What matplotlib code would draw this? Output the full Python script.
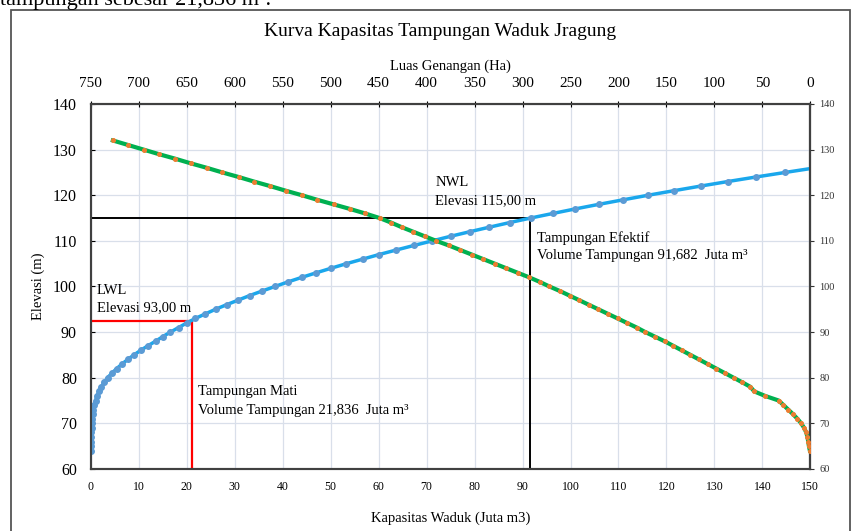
import matplotlib.pyplot as plt
from matplotlib.patches import Rectangle

plt.rcParams['font.family'] = ['Liberation Serif', 'DejaVu Serif']

# Kurva kapasitas (elevasi vs volume)
elevasi_vol = list(range(64, 127))
volume = [0.0, 0.02, 0.05, 0.08, 0.12, 0.17, 0.23, 0.30, 0.40, 0.55,
          0.75, 1.0, 1.3, 1.7, 2.2, 2.8, 3.5, 4.4, 5.4, 6.5,
          7.7, 9.0, 10.4, 11.9, 13.5, 15.0, 16.6, 18.3, 20.0, 21.8,
          23.9, 26.0, 28.3, 30.7, 33.1, 35.7, 38.4, 41.1, 44.0, 47.0,
          50.1, 53.3, 56.7, 60.1, 63.7, 67.4, 71.2, 75.0, 79.0, 83.1,
          87.3, 91.7, 96.3, 101.0, 105.9, 111.0, 116.2, 121.6, 127.1, 132.8,
          138.7, 144.8, 151.0]

# Kurva luas genangan (elevasi vs luas)
elevasi_luas = list(range(64, 133))
luas = [0.5, 1.5, 2.2, 3.0, 4.3, 6.5, 9.5, 13.5, 18, 23,
        28, 33, 47, 58.5, 62.5, 71, 80, 89, 98, 107,
        116, 125, 134, 143, 152, 162, 172, 181, 191, 201,
        211, 221, 231, 241, 251, 261, 272, 282, 293, 305,
        317, 329, 341, 353, 365, 377, 390, 402, 414, 426,
        437, 449, 464, 480, 497, 514, 530, 547, 563, 580,
        596, 613, 629, 646, 662, 679, 695, 711, 727]

lwl_elev, lwl_vol_line, lwl_vol = 92.5, 21.0, '21,836'
nwl_elev, nwl_vol_line, nwl_vol = 115.0, 91.6, '91,682'

fig = plt.figure(figsize=(8.54, 5.31), dpi=100)
ax = fig.add_axes([0.1063, 0.1168, 0.8426, 0.6874])

# garis bantu LWL / NWL
ax.plot([0, lwl_vol_line], [lwl_elev, lwl_elev], color='#ff0000', lw=1.6, zorder=3)
ax.plot([lwl_vol_line, lwl_vol_line], [60, lwl_elev], color='#ff0000', lw=1.6, zorder=3)
ax.plot([0, nwl_vol_line], [nwl_elev, nwl_elev], color='black', lw=1.4, zorder=3)
ax.plot([nwl_vol_line, nwl_vol_line], [60, nwl_elev], color='black', lw=1.4, zorder=3)

ax.plot(volume, elevasi_vol, color='#1aa7ec', lw=2.5, marker='o', ms=4,
        mfc='#5b9bd5', mec='#5b9bd5', zorder=4)

ax.set_xlim(0, 150)
ax.set_ylim(60, 140)
ax.set_xticks(range(0, 151, 10))
ax.set_yticks(range(60, 141, 10))
ax.grid(True, color='#d9dfea', lw=0.9)
ax.set_axisbelow(True)
ax.tick_params(axis='x', labelsize=8.5, length=0, pad=9)
ax.tick_params(axis='y', labelsize=11.5, direction='in', length=3, pad=10)
ax.set_xlabel('Kapasitas Waduk (Juta m3)', fontsize=10.5, labelpad=13)
ax.set_ylabel('Elevasi (m)', fontsize=10.5, labelpad=6)

ax2 = ax.twiny()
ax2.plot(luas, elevasi_luas, color='#00b050', lw=3, marker='o', ms=2.6,
         mfc='#ed7d31', mec='#ed7d31', zorder=4)
ax2.set_xlim(750, 0)
ax2.set_xticks(range(750, -1, -50))
ax2.tick_params(axis='x', labelsize=11, direction='inout', length=4, pad=8)
ax2.set_xlabel('Luas Genangan (Ha)', fontsize=10.5, labelpad=5)

sec = ax.secondary_yaxis('right')
sec.set_yticks(range(60, 141, 10))
sec.tick_params(labelsize=7.5, direction='out', length=3, colors='#333333')

for a in (ax, ax2):
    for s in a.spines.values():
        s.set_color('#404040')
        s.set_linewidth(1.5)
sec.spines['right'].set_color('#404040')
sec.spines['right'].set_linewidth(1.5)

fs = 10.5
ax.text(71.8, 122.7, 'NWL', fontsize=fs, va='center')
ax.text(71.8, 118.7, 'Elevasi 115,00 m', fontsize=fs, va='center')
ax.text(93.0, 110.6, 'Tampungan Efektif', fontsize=fs, va='center')
ax.text(93.0, 106.8, 'Volume Tampungan ' + nwl_vol + '  Juta m³', fontsize=fs, va='center')
ax.text(1.3, 99.2, 'LWL', fontsize=fs, va='center')
ax.text(1.3, 95.3, 'Elevasi 93,00 m', fontsize=fs, va='center')
ax.text(22.4, 76.9, 'Tampungan Mati', fontsize=fs, va='center')
ax.text(22.4, 72.9, 'Volume Tampungan ' + lwl_vol + '  Juta m³', fontsize=fs, va='center')

fig.text(0.515, 1 - 32 / 531, 'Kurva Kapasitas Tampungan Waduk Jragung',
         fontsize=14, ha='center', va='center')

# bingkai gambar dan potongan teks dokumen di atasnya
fig.patches.append(Rectangle((11 / 854, -0.1), 839 / 854, 1.1 - 10 / 531,
                             transform=fig.transFigure, fill=False,
                             ec='#555555', lw=1.3))
fig.text(0.0, 1 - 5 / 531, 'tampungan sebesar 21,836 m³.', fontsize=16,
         va='baseline', ha='left')

fig.savefig('out.png', dpi=100)
